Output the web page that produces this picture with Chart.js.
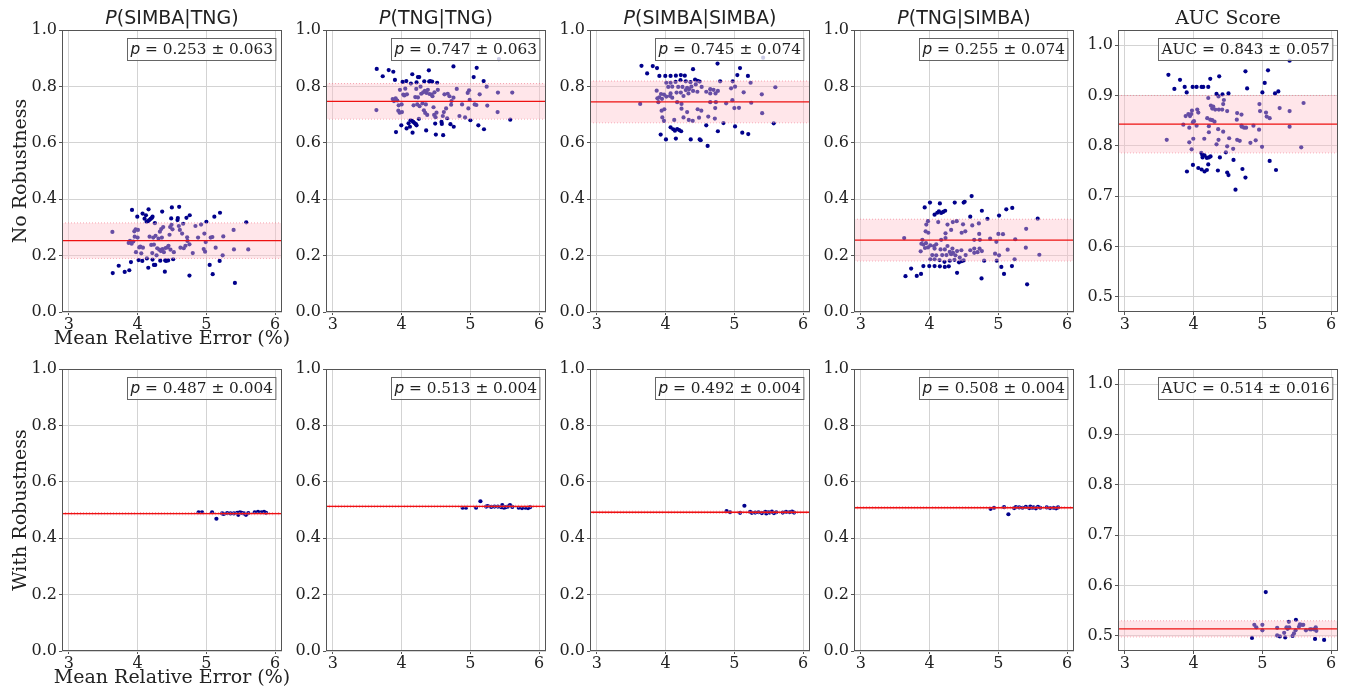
<!DOCTYPE html>
<html>
<head>
<meta charset="utf-8">
<script src="https://cdn.jsdelivr.net/npm/chart.js@4.4.0/dist/chart.umd.min.js"></script>
<style>
    html, body { margin: 0; padding: 0; background: #fff; overflow: hidden; }
    #wrap { position: relative; width: 1347px; height: 690px; }
</style>
</head>
<body>
<div id="wrap"></div>
<script>
// ---- data ----

// No robustness: P(SIMBA|TNG) and P(TNG|TNG) share the same x (mean relative error, %)
const errA = [3.633, 3.638, 3.725, 3.812, 3.879, 3.903, 3.918, 3.870, 3.889, 3.913,
    3.937, 3.952, 3.957, 3.971, 3.976, 3.995, 4.000, 4.005, 4.014, 4.024,
    4.039, 4.053, 4.068, 4.072, 4.077, 4.101, 4.121, 4.130, 4.135, 4.150,
    4.155, 4.159, 4.169, 4.174, 4.188, 4.198, 4.208, 4.213, 4.217, 4.217,
    4.227, 4.237, 4.237, 4.251, 4.256, 4.261, 4.275, 4.285, 4.304, 4.314,
    4.324, 4.329, 4.338, 4.343, 4.353, 4.357, 4.362, 4.372, 4.382, 4.396,
    4.401, 4.406, 4.415, 4.435, 4.444, 4.449, 4.464, 4.473, 4.478, 4.488,
    4.493, 4.498, 4.507, 4.517, 4.527, 4.580, 4.585, 4.599, 4.604, 4.614,
    4.623, 4.647, 4.662, 4.671, 4.696, 4.710, 4.720, 4.725, 4.754, 4.754,
    4.758, 4.802, 4.841, 4.879, 4.923, 4.961, 4.971, 4.981, 4.990, 5.000,
    5.048, 5.063, 5.087, 5.092, 5.116, 5.135, 5.193, 5.198, 5.237, 5.246,
    5.396, 5.401, 5.415, 5.580, 5.609];
const pSimbaTng = [0.284, 0.138, 0.164, 0.142, 0.148, 0.177, 0.362, 0.245, 0.252, 0.242,
    0.250, 0.286, 0.267, 0.293, 0.212, 0.338, 0.264, 0.291, 0.184, 0.229,
    0.232, 0.208, 0.181, 0.349, 0.228, 0.331, 0.343, 0.320, 0.190, 0.322,
    0.157, 0.364, 0.326, 0.267, 0.330, 0.238, 0.334, 0.209, 0.338, 0.186,
    0.264, 0.239, 0.167, 0.315, 0.167, 0.270, 0.201, 0.226, 0.260, 0.221,
    0.285, 0.182, 0.216, 0.294, 0.264, 0.356, 0.223, 0.301, 0.212, 0.143,
    0.183, 0.227, 0.181, 0.229, 0.183, 0.235, 0.274, 0.301, 0.221, 0.332,
    0.309, 0.371, 0.293, 0.187, 0.212, 0.326, 0.333, 0.305, 0.373, 0.291,
    0.228, 0.278, 0.313, 0.226, 0.235, 0.334, 0.265, 0.252, 0.240, 0.129,
    0.343, 0.209, 0.305, 0.264, 0.310, 0.223, 0.278, 0.214, 0.248, 0.320,
    0.167, 0.264, 0.266, 0.134, 0.338, 0.228, 0.181, 0.352, 0.201, 0.268,
    0.291, 0.222, 0.103, 0.318, 0.222];
const pTngTng = [0.716, 0.862, 0.836, 0.858, 0.852, 0.823, 0.638, 0.755, 0.748, 0.758,
    0.750, 0.714, 0.733, 0.707, 0.788, 0.662, 0.736, 0.709, 0.816, 0.771,
    0.768, 0.792, 0.819, 0.651, 0.772, 0.669, 0.657, 0.680, 0.810, 0.678,
    0.843, 0.636, 0.674, 0.733, 0.670, 0.762, 0.666, 0.791, 0.662, 0.814,
    0.736, 0.761, 0.833, 0.685, 0.833, 0.730, 0.799, 0.774, 0.740, 0.779,
    0.715, 0.818, 0.784, 0.706, 0.736, 0.644, 0.777, 0.699, 0.788, 0.857,
    0.817, 0.773, 0.819, 0.771, 0.817, 0.765, 0.726, 0.699, 0.779, 0.668,
    0.691, 0.629, 0.707, 0.813, 0.788, 0.674, 0.667, 0.695, 0.627, 0.709,
    0.772, 0.722, 0.687, 0.774, 0.765, 0.666, 0.735, 0.748, 0.760, 0.871,
    0.657, 0.791, 0.695, 0.736, 0.690, 0.777, 0.722, 0.786, 0.752, 0.680,
    0.833, 0.736, 0.734, 0.866, 0.662, 0.772, 0.819, 0.648, 0.799, 0.732,
    0.709, 0.778, 0.897, 0.682, 0.778];

// No robustness: P(SIMBA|SIMBA) and P(TNG|SIMBA)
const errB = [3.649, 3.731, 3.813, 3.875, 3.630, 3.909, 3.995, 4.072, 4.149, 4.221,
    4.279, 4.399, 4.755, 5.082, 5.043, 5.197, 5.418, 4.010, 4.072, 4.144,
    4.216, 4.293, 4.361, 4.428, 4.466, 4.495, 4.793, 4.976, 5.236, 4.038,
    4.096, 4.183, 4.245, 4.313, 4.375, 4.438, 4.524, 4.649, 4.697, 4.760,
    4.952, 5.010, 3.870, 3.933, 3.976, 4.072, 4.159, 4.221, 4.293, 4.341,
    4.399, 4.462, 4.649, 4.726, 5.135, 5.399, 5.596, 3.880, 3.909, 3.947,
    4.010, 4.063, 4.096, 4.260, 4.332, 4.591, 3.894, 4.168, 4.231, 4.649,
    4.731, 4.880, 4.971, 5.245, 3.942, 3.981, 4.231, 4.313, 4.466, 4.519,
    4.721, 5.000, 5.067, 5.404, 3.952, 3.976, 4.125, 4.260, 4.337, 4.394,
    4.486, 4.620, 4.716, 4.841, 5.010, 5.572, 4.072, 4.111, 4.135, 4.168,
    4.197, 4.226, 3.928, 4.005, 4.149, 4.365, 4.495, 4.510, 4.591, 4.760,
    5.115, 5.202, 4.611];
const pSimbaSimba = [0.873, 0.846, 0.872, 0.865, 0.738, 0.837, 0.837, 0.837, 0.838, 0.840,
    0.838, 0.861, 0.881, 0.865, 0.840, 0.837, 0.902, 0.813, 0.813, 0.816,
    0.822, 0.818, 0.815, 0.824, 0.820, 0.817, 0.818, 0.818, 0.813, 0.798,
    0.799, 0.798, 0.798, 0.795, 0.799, 0.807, 0.798, 0.790, 0.788, 0.784,
    0.793, 0.799, 0.785, 0.773, 0.771, 0.775, 0.778, 0.778, 0.787, 0.790,
    0.784, 0.781, 0.775, 0.775, 0.779, 0.772, 0.797, 0.758, 0.761, 0.756,
    0.764, 0.766, 0.760, 0.766, 0.775, 0.781, 0.744, 0.744, 0.738, 0.744,
    0.744, 0.740, 0.751, 0.742, 0.714, 0.719, 0.721, 0.709, 0.719, 0.714,
    0.723, 0.723, 0.724, 0.705, 0.690, 0.678, 0.681, 0.690, 0.681, 0.678,
    0.689, 0.693, 0.686, 0.670, 0.658, 0.669, 0.655, 0.648, 0.643, 0.649,
    0.645, 0.641, 0.629, 0.612, 0.615, 0.612, 0.612, 0.609, 0.662, 0.641,
    0.636, 0.631, 0.589];
const pTngSimba = [0.127, 0.154, 0.128, 0.135, 0.262, 0.163, 0.163, 0.163, 0.162, 0.160,
    0.162, 0.139, 0.119, 0.135, 0.160, 0.163, 0.098, 0.187, 0.187, 0.184,
    0.178, 0.182, 0.185, 0.176, 0.180, 0.183, 0.182, 0.182, 0.187, 0.202,
    0.201, 0.202, 0.202, 0.205, 0.201, 0.193, 0.202, 0.210, 0.212, 0.216,
    0.207, 0.201, 0.215, 0.227, 0.229, 0.225, 0.222, 0.222, 0.213, 0.210,
    0.216, 0.219, 0.225, 0.225, 0.221, 0.228, 0.203, 0.242, 0.239, 0.244,
    0.236, 0.234, 0.240, 0.234, 0.225, 0.219, 0.256, 0.256, 0.262, 0.256,
    0.256, 0.260, 0.249, 0.258, 0.286, 0.281, 0.279, 0.291, 0.281, 0.286,
    0.277, 0.277, 0.276, 0.295, 0.310, 0.322, 0.319, 0.310, 0.319, 0.322,
    0.311, 0.307, 0.314, 0.330, 0.342, 0.331, 0.345, 0.352, 0.357, 0.351,
    0.355, 0.359, 0.371, 0.388, 0.385, 0.388, 0.388, 0.391, 0.338, 0.359,
    0.364, 0.369, 0.411];

// No robustness: AUC score
const errC = [3.633, 3.720, 3.802, 3.870, 3.899, 3.986, 4.043, 4.116, 4.140, 4.213,
    4.242, 4.372, 4.754, 4.778, 5.082, 5.034, 5.000, 5.184, 5.232, 5.396,
    4.333, 4.362, 4.420, 4.440, 4.507, 4.213, 4.251, 4.271, 4.285, 4.314,
    4.367, 4.415, 4.430, 4.488, 4.633, 4.696, 4.957, 4.966, 5.053, 5.063,
    5.106, 5.251, 5.396, 5.599, 3.609, 3.850, 3.884, 3.923, 3.947, 3.966,
    3.990, 3.976, 4.053, 4.068, 4.005, 4.043, 3.937, 4.198, 4.242, 4.271,
    4.304, 4.222, 4.357, 4.222, 4.155, 3.937, 3.995, 3.971, 4.362, 4.333,
    4.430, 4.517, 4.488, 4.469, 4.575, 4.633, 4.671, 4.700, 4.734, 4.763,
    4.628, 4.696, 4.826, 4.870, 4.903, 4.952, 4.995, 5.396, 5.565, 4.111,
    4.126, 4.130, 4.159, 4.193, 4.222, 4.246, 4.213, 4.382, 4.580, 5.106,
    3.990, 4.068, 4.116, 4.159, 4.193, 4.353, 4.488, 4.507, 3.903, 4.710,
    4.754, 5.198, 4.609];
const aucNoRob = [0.941, 0.913, 0.931, 0.917, 0.906, 0.917, 0.917, 0.917, 0.917, 0.917,
    0.933, 0.938, 0.948, 0.914, 0.950, 0.925, 0.906, 0.904, 0.908, 0.969,
    0.903, 0.898, 0.902, 0.891, 0.904, 0.895, 0.880, 0.874, 0.878, 0.872,
    0.872, 0.872, 0.883, 0.869, 0.865, 0.862, 0.883, 0.869, 0.866, 0.858,
    0.855, 0.875, 0.869, 0.885, 0.812, 0.842, 0.859, 0.863, 0.859, 0.863,
    0.847, 0.870, 0.872, 0.866, 0.849, 0.840, 0.836, 0.855, 0.852, 0.851,
    0.848, 0.839, 0.833, 0.827, 0.814, 0.807, 0.814, 0.793, 0.812, 0.803,
    0.828, 0.815, 0.799, 0.787, 0.794, 0.812, 0.810, 0.838, 0.836, 0.836,
    0.852, 0.840, 0.806, 0.840, 0.811, 0.832, 0.798, 0.838, 0.797, 0.786,
    0.782, 0.777, 0.781, 0.776, 0.777, 0.779, 0.763, 0.777, 0.772, 0.770,
    0.762, 0.756, 0.753, 0.749, 0.752, 0.751, 0.747, 0.742, 0.749, 0.754,
    0.737, 0.752, 0.713];

// With robustness: the four probability panels
const errRob = [4.887, 4.937, 5.083, 5.146, 5.229, 5.254, 5.303, 5.351, 5.400, 5.449,
    5.464, 5.488, 5.512, 5.546, 5.576, 5.610, 5.703, 5.751, 5.800, 5.839, 5.868];
const pSimbaTngRob = [0.492, 0.492, 0.492, 0.469, 0.488, 0.486, 0.489, 0.488, 0.488, 0.490,
    0.483, 0.492, 0.490, 0.488, 0.483, 0.489, 0.492, 0.493, 0.492, 0.493, 0.490];
const pTngTngRob = [0.508, 0.508, 0.508, 0.531, 0.512, 0.514, 0.511, 0.512, 0.512, 0.510,
    0.517, 0.508, 0.510, 0.512, 0.517, 0.511, 0.508, 0.507, 0.508, 0.507, 0.510];
const pSimbaSimbaRob = [0.496, 0.492, 0.490, 0.515, 0.493, 0.490, 0.491, 0.492, 0.489, 0.493,
    0.488, 0.492, 0.491, 0.494, 0.489, 0.492, 0.491, 0.493, 0.492, 0.494, 0.491];
const pTngSimbaRob = [0.504, 0.508, 0.510, 0.485, 0.507, 0.510, 0.509, 0.508, 0.511, 0.507,
    0.512, 0.508, 0.509, 0.506, 0.511, 0.508, 0.509, 0.507, 0.508, 0.506, 0.509];

// With robustness: AUC score
const errRobC = [4.849, 4.883, 4.912, 5.000, 5.000, 5.049, 5.215, 5.215, 5.254, 5.317,
    5.332, 5.351, 5.366, 5.385, 5.390, 5.439, 5.459, 5.483, 5.488, 5.532,
    5.546, 5.576, 5.595, 5.634, 5.693, 5.712, 5.751, 5.766, 5.776, 5.785, 5.898];
const aucRob = [0.496, 0.522, 0.517, 0.522, 0.511, 0.587, 0.516, 0.501, 0.499, 0.506,
    0.497, 0.517, 0.514, 0.528, 0.517, 0.500, 0.505, 0.511, 0.532, 0.518,
    0.523, 0.522, 0.522, 0.511, 0.513, 0.513, 0.513, 0.494, 0.517, 0.510, 0.492];

// mean +/- std per panel (columns left to right)
const noRobMean = [0.253, 0.747, 0.745, 0.255, 0.843];
const noRobStd = [0.063, 0.063, 0.074, 0.074, 0.057];
const robMean = [0.487, 0.513, 0.492, 0.508, 0.514];
const robStd = [0.004, 0.004, 0.004, 0.004, 0.016];

// column titles ('P' is drawn italic) and row labels
const colTitles = ['(SIMBA|TNG)', '(TNG|TNG)', '(SIMBA|SIMBA)', '(TNG|SIMBA)', 'AUC Score'];
const rowLabels = ['No Robustness', 'With Robustness'];
const xLabel = 'Mean Relative Error (%)';

// axis limits and ticks
const xTicks = [3, 4, 5, 6];
const probTicks = [0.0, 0.2, 0.4, 0.6, 0.8, 1.0];
const aucTicks = [0.5, 0.6, 0.7, 0.8, 0.9, 1.0];

// ---- layout / style ----
const X_MIN = 2.9, X_MAX = 6.1;
const AREA_W = 220, AREA_H = 282;
const AREA_LEFT0 = 62, AREA_STEP = 264;
const AREA_TOP = [30, 369];
const PAD_L = 62, PAD_T = 30, PAD_R = 8, PAD_B = 42;

const SERIF = '"DejaVu Serif", serif';
const SANS = '"DejaVu Sans", sans-serif';
const BOX_SIZE = '15.3px ';
const NAVY = '#00008b';
const BAND = 'rgba(255, 192, 203, 0.4)';
const BAND_EDGE = 'rgba(240, 110, 130, 0.6)';
const GRID = '#d3d3d3';
const SPINE = '#555';
const TEXT = '#222';

const wrap = document.getElementById('wrap');

// draw a run of text pieces with different fonts, left to right
function richWidth(ctx, parts) {
    let w = 0;
    parts.forEach(p => { ctx.font = p.font; w += ctx.measureText(p.text).width; });
    return w;
}
function drawRich(ctx, parts, x, y) {
    let cx = x;
    parts.forEach(p => {
        ctx.font = p.font;
        ctx.fillText(p.text, cx, y);
        cx += ctx.measureText(p.text).width;
    });
}

function makePanel(row, col, xs, ys, mean, std) {
    const isAuc = col === 4;
    const canvas = document.createElement('canvas');
    const w = PAD_L + AREA_W + PAD_R, h = PAD_T + AREA_H + PAD_B;
    canvas.width = w;
    canvas.height = h;
    canvas.style.position = 'absolute';
    canvas.style.left = (AREA_LEFT0 + col * AREA_STEP - PAD_L) + 'px';
    canvas.style.top = (AREA_TOP[row] - PAD_T) + 'px';
    canvas.style.width = w + 'px';
    canvas.style.height = h + 'px';
    wrap.appendChild(canvas);

    const yTicks = isAuc ? aucTicks : probTicks;
    const yMin = isAuc ? 0.47 : 0;
    const yMax = isAuc ? 1.03 : 1;

    // annotation box text
    const boxParts = isAuc
        ? [{ text: 'AUC = ' + mean.toFixed(3) + ' \u00b1 ' + std.toFixed(3), font: BOX_SIZE + SERIF }]
        : [{ text: 'p', font: 'italic ' + BOX_SIZE + SANS },
           { text: ' = ' + mean.toFixed(3) + ' \u00b1 ' + std.toFixed(3), font: BOX_SIZE + SERIF }];

    const decor = {
        id: 'decor',
        afterDatasetsDraw(chart) {
            const { ctx, chartArea: a } = chart;
            ctx.save();
            ctx.textBaseline = 'middle';
            ctx.textAlign = 'left';
            const tw = richWidth(ctx, boxParts);
            const bw = tw + 6, bh = 22;
            const bx = Math.round(a.right - (isAuc ? 6 : 7) - bw) + 0.5;
            const by = Math.round(a.top + 8) + 0.5;
            ctx.fillStyle = 'rgba(255,255,255,0.8)';
            ctx.fillRect(bx, by, bw, bh);
            ctx.strokeStyle = '#666';
            ctx.lineWidth = 1;
            ctx.strokeRect(bx, by, bw, bh);
            ctx.fillStyle = TEXT;
            drawRich(ctx, boxParts, bx + 3, by + bh / 2 + 1);
            ctx.restore();
        },
        afterDraw(chart) {
            const { ctx, chartArea: a } = chart;
            ctx.save();
            // spines
            ctx.strokeStyle = SPINE;
            ctx.lineWidth = 1;
            ctx.strokeRect(Math.round(a.left) + 0.5, Math.round(a.top) + 0.5,
                Math.round(a.right - a.left) - 1, Math.round(a.bottom - a.top) - 1);
            ctx.fillStyle = TEXT;
            const cx = (a.left + a.right) / 2;
            // column titles on the top row
            if (row === 0) {
                ctx.textBaseline = 'alphabetic';
                ctx.textAlign = 'left';
                const parts = isAuc
                    ? [{ text: colTitles[col], font: '19px ' + SERIF }]
                    : [{ text: 'P', font: 'italic 19px ' + SANS }, { text: colTitles[col], font: '19px ' + SANS }];
                const tw = richWidth(ctx, parts);
                drawRich(ctx, parts, cx - tw / 2, a.top - 6);
            }
            // axis labels on the first column
            if (col === 0) {
                ctx.font = '19px ' + SERIF;
                ctx.textAlign = 'center';
                ctx.textBaseline = 'alphabetic';
                ctx.fillText(xLabel, cx, a.bottom + 32);
                ctx.translate(21, (a.top + a.bottom) / 2);
                ctx.rotate(-Math.PI / 2);
                ctx.textBaseline = 'middle';
                ctx.fillText(rowLabels[row], 0, 0);
            }
            ctx.restore();
        }
    };

    const hLine = (y) => [{ x: X_MIN, y }, { x: X_MAX, y }];

    new Chart(canvas, {
        type: 'scatter',
        data: {
            datasets: [
                {
                    data: xs.map((x, i) => ({ x, y: ys[i] })),
                    pointRadius: 2.1,
                    pointBorderWidth: 0,
                    pointBackgroundColor: NAVY,
                    showLine: false,
                    order: 3
                },
                {
                    type: 'line',
                    data: hLine(mean + std),
                    pointRadius: 0,
                    borderColor: BAND_EDGE,
                    borderWidth: 1,
                    borderDash: [1, 2],
                    backgroundColor: BAND,
                    fill: '+1',
                    order: 2
                },
                {
                    type: 'line',
                    data: hLine(mean - std),
                    pointRadius: 0,
                    borderColor: BAND_EDGE,
                    borderWidth: 1,
                    borderDash: [1, 2],
                    fill: false,
                    order: 2
                },
                {
                    type: 'line',
                    data: hLine(mean),
                    pointRadius: 0,
                    borderColor: '#ee1111',
                    borderWidth: 1.4,
                    fill: false,
                    order: 1
                }
            ]
        },
        options: {
            responsive: false,
            animation: false,
            events: [],
            layout: { padding: { top: PAD_T, right: PAD_R, left: 0, bottom: 0 }, autoPadding: false },
            plugins: {
                legend: { display: false },
                tooltip: { enabled: false }
            },
            scales: {
                x: {
                    type: 'linear',
                    min: X_MIN,
                    max: X_MAX,
                    bounds: 'data',
                    afterFit: (s) => { s.height = PAD_B; },
                    afterBuildTicks: (s) => { s.ticks = xTicks.map(v => ({ value: v })); },
                    ticks: {
                        font: { family: SERIF, size: 16 },
                        color: TEXT,
                        padding: 0,
                        maxRotation: 0,
                        callback: (v) => String(v)
                    },
                    grid: { color: GRID, tickColor: SPINE, tickLength: 3 },
                    border: { display: false }
                },
                y: {
                    type: 'linear',
                    min: yMin,
                    max: yMax,
                    bounds: 'data',
                    afterFit: (s) => { s.width = PAD_L; },
                    afterBuildTicks: (s) => { s.ticks = yTicks.map(v => ({ value: v })); },
                    ticks: {
                        font: { family: SERIF, size: 16 },
                        color: TEXT,
                        padding: 2,
                        callback: (v) => Number(v).toFixed(1)
                    },
                    grid: { color: GRID, tickColor: SPINE, tickLength: 3 },
                    border: { display: false }
                }
            }
        },
        plugins: [decor]
    });
}

// top row: no robustness
makePanel(0, 0, errA, pSimbaTng, noRobMean[0], noRobStd[0]);
makePanel(0, 1, errA, pTngTng, noRobMean[1], noRobStd[1]);
makePanel(0, 2, errB, pSimbaSimba, noRobMean[2], noRobStd[2]);
makePanel(0, 3, errB, pTngSimba, noRobMean[3], noRobStd[3]);
makePanel(0, 4, errC, aucNoRob, noRobMean[4], noRobStd[4]);

// bottom row: with robustness
makePanel(1, 0, errRob, pSimbaTngRob, robMean[0], robStd[0]);
makePanel(1, 1, errRob, pTngTngRob, robMean[1], robStd[1]);
makePanel(1, 2, errRob, pSimbaSimbaRob, robMean[2], robStd[2]);
makePanel(1, 3, errRob, pTngSimbaRob, robMean[3], robStd[3]);
makePanel(1, 4, errRobC, aucRob, robMean[4], robStd[4]);
</script>
</body>
</html>
